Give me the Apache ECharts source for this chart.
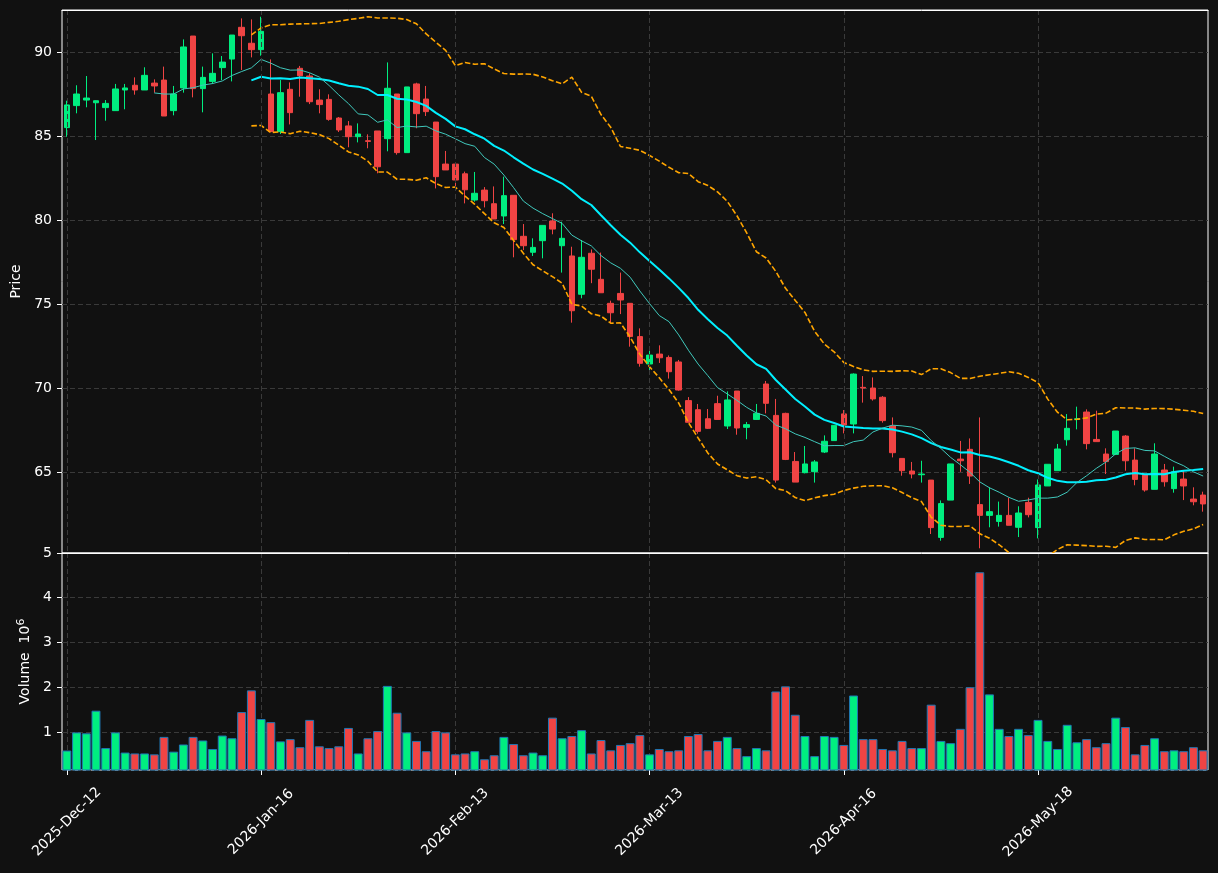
<!DOCTYPE html>
<html>
<head>
<meta charset="utf-8">
<script src="https://cdn.jsdelivr.net/npm/echarts@6/dist/echarts.min.js"></script>
<style>
  html, body { margin: 0; padding: 0; background: #111111; }
  #main { width: 1218px; height: 873px; }
</style>
</head>
<body>
<div id="main"></div>
<script>
(function () {

  // OHLC, one value per trading day
  var opens = [
    85.50, 86.81, 87.14, 86.98, 86.69, 86.51, 87.74, 88.02, 87.74, 88.15,
    88.33, 86.51, 87.86, 90.95, 87.82, 88.25, 89.07, 89.58, 91.47, 90.52,
    90.14, 87.50, 85.26, 87.78, 89.03, 88.57, 87.14, 87.18, 86.07, 85.60,
    84.96, 84.72, 85.30, 84.84, 87.50, 84.01, 88.10, 87.20, 85.83, 83.33,
    83.33, 82.75, 81.19, 81.78, 80.97, 80.24, 81.47, 79.03, 78.08, 78.77,
    79.94, 78.47, 77.86, 75.58, 78.02, 76.47, 75.04, 75.63, 75.04, 73.06,
    71.43, 72.02, 71.82, 71.55, 69.25, 68.71, 68.17, 69.07, 67.74, 69.82,
    67.66, 68.13, 70.24, 68.37, 68.49, 65.63, 64.96, 65.02, 66.19, 66.87,
    68.46, 67.86, 70.04, 70.00, 69.45, 67.74, 65.81, 65.06, 64.84, 64.52,
    61.11, 63.33, 65.77, 66.35, 63.06, 62.42, 62.06, 62.42, 61.71, 63.19,
    61.69, 64.17, 65.08, 66.92, 68.13, 68.57, 66.94, 66.07, 66.05, 67.14,
    65.71, 64.82, 63.97, 65.12, 64.01, 64.58, 63.39, 63.63
  ];
  var closes = [
    86.85, 87.50, 87.26, 87.10, 86.94, 87.80, 87.86, 87.74, 88.61, 87.98,
    86.19, 87.50, 90.30, 87.82, 88.49, 88.73, 89.40, 91.01, 90.97, 90.14,
    91.23, 85.26, 87.58, 86.39, 88.59, 87.04, 86.87, 85.99, 85.36, 84.96,
    85.12, 84.68, 83.17, 87.84, 84.01, 87.92, 86.33, 86.45, 82.58, 82.98,
    82.38, 81.80, 81.59, 81.15, 80.06, 81.45, 78.83, 78.47, 78.37, 79.68,
    79.46, 78.91, 74.60, 77.78, 77.07, 75.67, 74.48, 75.24, 73.06, 71.47,
    71.96, 71.80, 70.97, 69.88, 67.96, 67.42, 67.60, 68.13, 69.29, 67.62,
    67.82, 68.49, 69.09, 64.52, 65.75, 64.40, 65.48, 65.60, 66.83, 67.78,
    67.80, 70.83, 70.00, 69.35, 68.06, 66.15, 65.08, 64.88, 64.88, 61.69,
    63.12, 65.48, 65.67, 64.76, 62.42, 62.64, 62.42, 61.83, 62.56, 62.46,
    64.23, 65.46, 66.37, 67.60, 68.17, 66.69, 66.81, 65.62, 67.44, 65.67,
    64.56, 63.93, 66.07, 64.42, 65.02, 64.17, 63.23, 63.10
  ];
  var lows = [
    84.96, 86.35, 86.71, 84.76, 85.91, 86.51, 86.59, 87.46, 87.74, 87.58,
    86.19, 86.23, 87.58, 87.30, 86.41, 88.10, 88.33, 88.25, 88.93, 89.68,
    89.78, 85.26, 85.12, 85.69, 87.34, 86.90, 86.35, 85.91, 85.24, 84.33,
    84.62, 84.27, 82.78, 84.09, 83.89, 84.01, 85.46, 86.19, 81.88, 82.98,
    82.02, 80.99, 81.09, 80.75, 80.06, 79.76, 77.78, 78.21, 77.86, 77.72,
    79.15, 76.87, 73.89, 75.34, 76.24, 75.67, 73.85, 74.40, 72.46, 71.27,
    70.83, 71.49, 70.56, 69.84, 67.96, 67.28, 67.56, 68.13, 67.56, 67.22,
    66.95, 68.10, 68.49, 64.37, 65.71, 64.40, 64.92, 64.37, 66.13, 66.87,
    67.30, 67.30, 69.13, 69.25, 67.94, 65.87, 64.78, 64.62, 64.37, 61.31,
    60.91, 63.33, 65.01, 64.29, 60.46, 61.71, 61.75, 61.83, 61.13, 62.30,
    61.05, 64.17, 65.08, 66.57, 67.54, 66.35, 66.81, 64.88, 66.01, 65.08,
    64.21, 63.83, 63.97, 64.13, 63.77, 63.33, 63.02, 62.64
  ];
  var highs = [
    87.10, 88.02, 88.57, 87.12, 87.14, 88.10, 88.10, 88.49, 89.09, 88.37,
    89.13, 87.98, 90.75, 90.95, 89.13, 89.92, 89.76, 91.01, 92.00, 91.94,
    92.10, 89.56, 88.33, 88.19, 89.17, 88.73, 87.78, 87.48, 86.13, 85.89,
    85.75, 85.10, 85.30, 89.38, 87.50, 87.92, 88.17, 87.98, 85.83, 84.11,
    83.33, 82.88, 82.86, 81.96, 82.00, 82.58, 81.47, 79.76, 78.91, 79.68,
    80.40, 79.90, 78.41, 78.81, 78.25, 78.06, 75.20, 76.87, 75.04, 73.55,
    72.42, 72.54, 71.94, 71.67, 69.46, 69.05, 68.75, 69.54, 69.80, 69.82,
    67.98, 69.05, 70.42, 69.35, 68.53, 66.19, 66.55, 65.71, 67.18, 67.78,
    68.69, 70.87, 70.71, 70.63, 69.52, 68.25, 65.81, 65.60, 65.67, 64.52,
    63.31, 65.48, 66.85, 67.00, 68.25, 64.09, 63.24, 63.47, 62.96, 63.47,
    64.56, 65.46, 66.67, 68.45, 68.89, 68.73, 68.65, 66.41, 67.44, 67.20,
    66.41, 64.82, 66.71, 65.48, 65.32, 65.12, 64.09, 63.83
  ];
  // volume in millions
  var volumes = [
    0.585, 0.99, 0.97, 1.475, 0.64, 0.99, 0.54, 0.52, 0.52, 0.50,
    0.89, 0.56, 0.72, 0.89, 0.81, 0.62, 0.92, 0.86, 1.445, 1.93,
    1.29, 1.22, 0.79, 0.84, 0.66, 1.27, 0.68, 0.64, 0.68, 1.09,
    0.52, 0.86, 1.02, 2.03, 1.43, 0.99, 0.80, 0.57, 1.02, 0.99,
    0.50, 0.52, 0.57, 0.39, 0.48, 0.89, 0.73, 0.48, 0.54, 0.48,
    1.32, 0.86, 0.91, 1.04, 0.52, 0.82, 0.59, 0.71, 0.75, 0.93,
    0.50, 0.62, 0.57, 0.59, 0.91, 0.955, 0.59, 0.80, 0.89, 0.64,
    0.46, 0.64, 0.59, 1.905, 2.02, 1.385, 0.91, 0.46, 0.91, 0.89,
    0.71, 1.815, 0.84, 0.84, 0.62, 0.59, 0.80, 0.64, 0.64, 1.61,
    0.80, 0.75, 1.07, 2.00, 4.57, 1.84, 1.07, 0.91, 1.07, 0.93,
    1.27, 0.80, 0.62, 1.16, 0.77, 0.84, 0.66, 0.75, 1.32, 1.11,
    0.50, 0.71, 0.86, 0.57, 0.59, 0.57, 0.66, 0.59
  ];

  var firstDay = '2025-12-12';
  var skipDays = ['2025-12-24', '2025-12-25', '2025-12-26', '2026-01-01', '2026-01-02',
                  '2026-03-20', '2026-04-02', '2026-04-03', '2026-04-06',
                  '2026-05-01', '2026-05-14'];
  var monthNames = ['Jan', 'Feb', 'Mar', 'Apr', 'May', 'Jun', 'Jul', 'Aug', 'Sep', 'Oct', 'Nov', 'Dec'];

  var UP = '#00ee80';
  var DOWN = '#f04444';

  function tradingDays(start, count) {
    var out = [];
    var d = new Date(start + 'T00:00:00Z');
    while (out.length < count) {
      var wd = d.getUTCDay();
      var iso = d.toISOString().slice(0, 10);
      if (wd !== 0 && wd !== 6 && skipDays.indexOf(iso) < 0) {
        out.push(d.getUTCFullYear() + '-' + monthNames[d.getUTCMonth()] + '-' + iso.slice(8, 10));
      }
      d.setUTCDate(d.getUTCDate() + 1);
    }
    return out;
  }

  // rolling mean / bollinger over the close prices
  function rolling(vals, n) {
    var mean = [], up = [], lo = [];
    for (var i = 0; i < vals.length; i++) {
      if (i < n - 1) { mean.push('-'); up.push('-'); lo.push('-'); continue; }
      var s = 0;
      for (var j = i - n + 1; j <= i; j++) s += vals[j];
      var m = s / n;
      var v = 0;
      for (j = i - n + 1; j <= i; j++) v += (vals[j] - m) * (vals[j] - m);
      var sd = Math.sqrt(v / n);
      mean.push(m); up.push(m + 2 * sd); lo.push(m - 2 * sd);
    }
    return { mean: mean, upper: up, lower: lo };
  }

  var dates = tradingDays(firstDay, closes.length);
  var ma10 = rolling(closes, 10).mean;
  var bb = rolling(closes, 20);

  var candleData = [];
  var volData = [];
  for (var i = 0; i < closes.length; i++) {
    candleData.push([opens[i], closes[i], lows[i], highs[i]]);
    volData.push({
      value: volumes[i],
      itemStyle: { color: closes[i] >= opens[i] ? UP : DOWN }
    });
  }

  var gridLine = { show: true, lineStyle: { color: '#3a3a3a', type: [5, 3], width: 1 } };
  var txt = { color: '#ffffff', fontSize: 14, fontFamily: 'DejaVu Sans' };
  var whiteEdge = { show: true, lineStyle: { color: '#ffffff', width: 1 } };

  var myChart = echarts.init(document.getElementById('main'), null, { renderer: 'canvas' });

  var option = {
    backgroundColor: '#111111',
    animation: false,
    textStyle: { fontFamily: 'DejaVu Sans' },
    grid: [
      { left: 62, right: 10, top: 10, height: 543, show: true, borderColor: '#ffffff', borderWidth: 1 },
      { left: 62, right: 10, top: 553, height: 217, show: true, borderColor: '#ffffff', borderWidth: 1 }
    ],
    xAxis: [
      {
        type: 'category', gridIndex: 0, data: dates, boundaryGap: true, position: 'top', z: 5,
        axisLine: whiteEdge, axisTick: { show: false }, axisLabel: { show: false },
        splitLine: { show: true, interval: 19, alignWithLabel: true, lineStyle: gridLine.lineStyle }
      },
      {
        type: 'category', gridIndex: 1, data: dates, boundaryGap: true,
        axisLine: { show: false },
        axisTick: { show: true, interval: 19, alignWithLabel: true, length: 5, lineStyle: { color: '#ffffff' } },
        axisLabel: Object.assign({ interval: 19, rotate: 45, margin: 52, align: 'center', verticalAlign: 'middle' }, txt),
        splitLine: { show: true, interval: 19, alignWithLabel: true, lineStyle: gridLine.lineStyle }
      },
      {
        // solid edge between the two panels
        type: 'category', gridIndex: 1, data: dates, position: 'top', z: 5,
        axisLine: whiteEdge, axisTick: { show: false }, axisLabel: { show: false }, splitLine: { show: false }
      }
    ],
    yAxis: [
      {
        type: 'value', gridIndex: 0, min: 60.18, max: 92.5, splitNumber: 6,
        axisLine: { show: false },
        axisTick: { show: true, length: 5, lineStyle: { color: '#ffffff' } },
        axisLabel: Object.assign({ showMinLabel: false, showMaxLabel: false, margin: 10 }, txt),
        splitLine: gridLine,
        name: 'Price', nameLocation: 'middle', nameGap: 31, nameRotate: 90,
        nameTextStyle: txt
      },
      {
        type: 'value', gridIndex: 1, min: 0.15, max: 5, splitNumber: 5,
        axisLine: { show: false },
        axisTick: { show: true, length: 5, lineStyle: { color: '#ffffff' } },
        axisLabel: Object.assign({ showMinLabel: false, margin: 10 }, txt),
        splitLine: gridLine,
        name: 'Volume  10{s|6}', nameLocation: 'middle', nameGap: 27, nameRotate: 90,
        nameTextStyle: Object.assign({
          rich: { s: { color: '#ffffff', fontSize: 11, fontFamily: 'DejaVu Sans', padding: [0, 0, 8, 0] } }
        }, txt)
      }
    ],
    series: [
      {
        type: 'candlestick', xAxisIndex: 0, yAxisIndex: 0, data: candleData,
        barWidth: '62%',
        itemStyle: { color: UP, color0: DOWN, borderColor: UP, borderColor0: DOWN, borderWidth: 1 }
      },
      {
        type: 'line', xAxisIndex: 0, yAxisIndex: 0, data: bb.mean, symbol: 'none',
        lineStyle: { color: '#00f0ff', width: 2 }, z: 4
      },
      {
        type: 'line', xAxisIndex: 0, yAxisIndex: 0, data: ma10, symbol: 'none',
        lineStyle: { color: '#40c8bc', width: 1 }, z: 4
      },
      {
        type: 'line', xAxisIndex: 0, yAxisIndex: 0, data: bb.upper, symbol: 'none',
        lineStyle: { color: '#ffa500', width: 1.6, type: [5.5, 2.4] }, z: 4
      },
      {
        type: 'line', xAxisIndex: 0, yAxisIndex: 0, data: bb.lower, symbol: 'none',
        lineStyle: { color: '#ffa500', width: 1.6, type: [5.5, 2.4] }, z: 4
      },
      {
        type: 'bar', xAxisIndex: 1, yAxisIndex: 1, data: volData,
        barWidth: '92%',
        itemStyle: { borderColor: '#1f77b4', borderWidth: 1 }
      }
    ]
  };

  myChart.setOption(option);

})();
</script>
</body>
</html>
